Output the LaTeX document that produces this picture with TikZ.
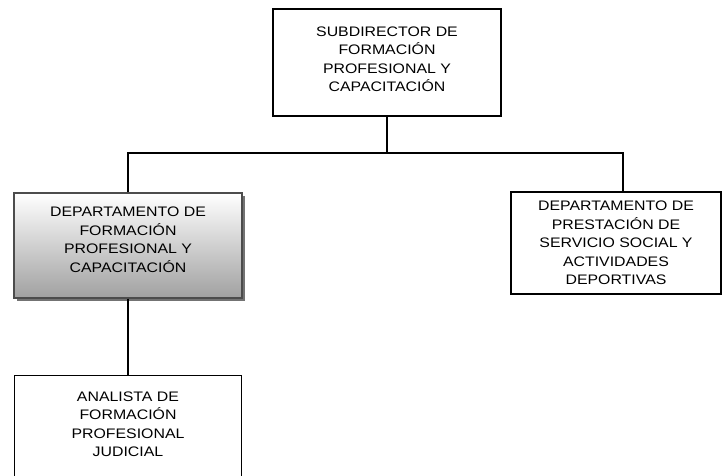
\documentclass[tikz,border=0pt]{standalone}
\usepackage{fontspec}
\setmainfont{Liberation Sans}[FakeStretch=1.15]
\usetikzlibrary{shadows}

\begin{document}
\begin{tikzpicture}[x=1pt,y=-1pt,
	puesto/.style={draw,line width=1.4pt,align=center,inner sep=0pt,
		font=\fontsize{13.8}{18.5}\selectfont},
	linea/.style={line width=1.6pt}]
	\useasboundingbox (0,0) rectangle (725,475);
	\node[puesto,minimum width=228,minimum height=107,text depth=7pt] (sub) at (387,62.5)
		{SUBDIRECTOR DE\\FORMACIÓN\\PROFESIONAL Y\\CAPACITACIÓN};
	\node[puesto,minimum width=228,minimum height=105,draw=black!70,text depth=12pt,
		top color=white,bottom color=black!37,
		drop shadow={shadow xshift=3pt,shadow yshift=-3pt,fill=black!55,opacity=1}]
		(depfp) at (128,245.5)
		{DEPARTAMENTO DE\\FORMACIÓN\\PROFESIONAL Y\\CAPACITACIÓN};
	\node[puesto,minimum width=210,minimum height=102,text depth=-9pt] (depss) at (616,243)
		{DEPARTAMENTO DE\\PRESTACIÓN DE\\SERVICIO SOCIAL Y\\ACTIVIDADES\\DEPORTIVAS};
	\node[puesto,minimum width=227,anchor=north,inner ysep=16pt,text depth=110pt]
		(anal) at (128,375)
		{ANALISTA DE\\FORMACIÓN\\PROFESIONAL\\JUDICIAL};
	% lineas
	\coordinate (bus) at (387,153);
	\draw[linea] (sub) -- (bus);
	\draw[linea] (depfp.north) |- (bus) -| ([xshift=7pt]depss.north);
	\draw[linea] (depfp.south) -- (anal.north);
\end{tikzpicture}
\end{document}
